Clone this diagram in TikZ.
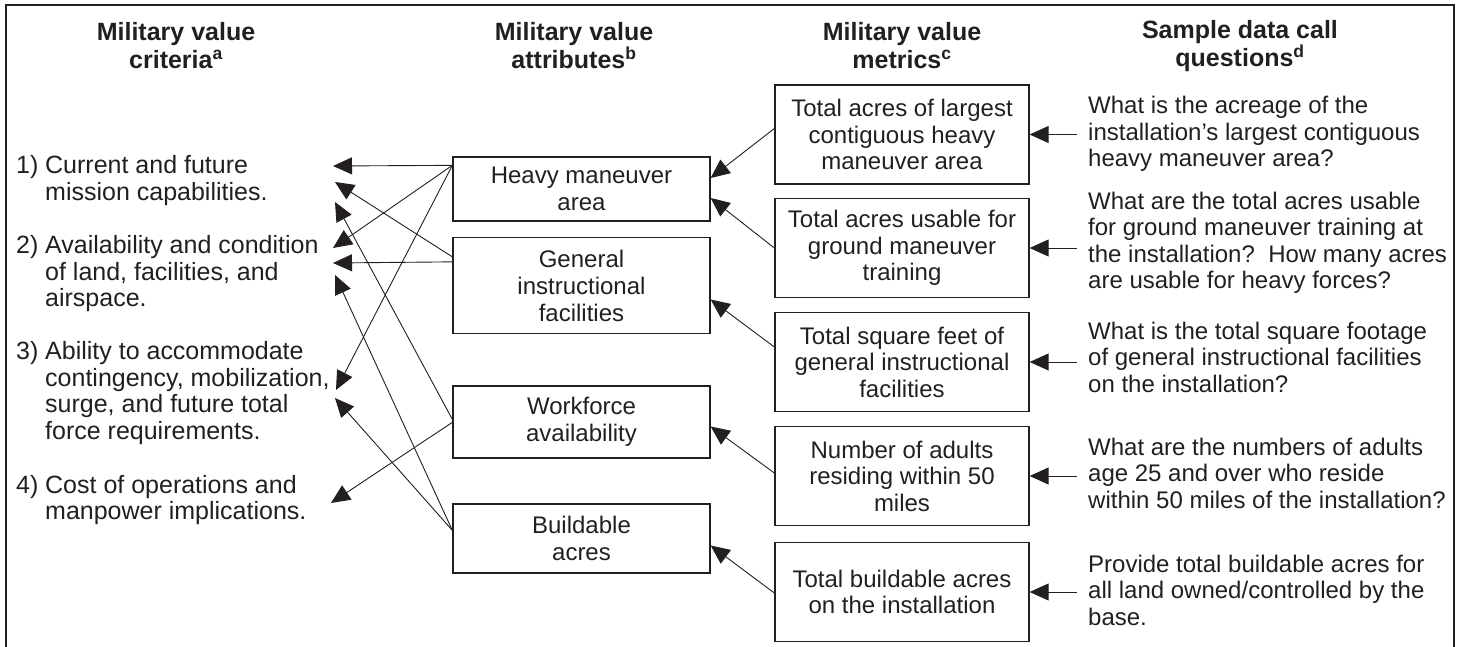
\documentclass[tikz,border=0pt]{standalone}
\usepackage{fontspec}
\setmainfont{Liberation Sans}
\usetikzlibrary{arrows.meta,calc}
\definecolor{ink}{HTML}{231F20}
\newcommand{\cnum}[1]{\makebox[29pt][l]{#1}}
\newcommand{\cind}{\hspace*{29pt}}
\begin{document}
\begin{tikzpicture}[x=1pt,y=-1pt,
  every node/.style={font=\fontsize{24}{26.5}\selectfont, text=ink, inner sep=0pt},
  hdr/.style={font=\bfseries\fontsize{25}{28}\selectfont, align=center},
  crit/.style={anchor=west, align=left, font=\fontsize{25}{26.5}\selectfont},
  attrbox/.style={draw=ink, line width=1.3pt, minimum width=257pt, align=center, font=\fontsize{24}{27}\selectfont},
  metbox/.style={draw=ink, line width=1.3pt, minimum width=254pt, minimum height=99pt, align=center},
  quest/.style={anchor=west, align=left, inner xsep=11pt},
  conn/.style={draw=ink, line width=0.9pt, -{Triangle[length=19pt,width=17pt]}},
]
\useasboundingbox (0,0) rectangle (1460,647);
\draw[ink, line width=1.5pt] (6,647) -- (6,5) -- (1454,5) -- (1454,647);

% headers
\node[hdr] (h1) at (176,46) {Military value\\criteria\textsuperscript{a}};
\node[hdr] (h2) at (574,46) {Military value\\attributes\textsuperscript{b}};
\node[hdr] (h3) at (902,46) {Military value\\metrics\textsuperscript{c}};
\node[hdr] (h4) at (1240,46) {Sample data call\\questions\textsuperscript{d}};

% criteria
\node[crit] (k1) at (16,180.5) {\cnum{1)}Current and future\\\cind mission capabilities.};
\node[crit] (k2) at (16,274) {\cnum{2)}Availability and condition\\\cind of land, facilities, and\\\cind airspace.};
\node[crit] (k3) at (16,393) {\cnum{3)}Ability to accommodate\\\cind contingency, mobilization,\\\cind surge, and future total\\\cind force requirements.};
\node[crit] (k4) at (16,500) {\cnum{4)}Cost of operations and\\\cind manpower implications.};

% attributes
\node[attrbox, minimum height=64pt] (hma) at (581.5,189) {Heavy maneuver\\area};
\node[attrbox, minimum height=96pt] (gif) at (581.5,285.5) {General\\instructional\\facilities};
\node[attrbox, minimum height=72pt] (wa) at (581.5,422) {Workforce\\availability};
\node[attrbox, minimum height=69pt] (ba) at (581.5,538.5) {Buildable\\acres};

% metrics
\node[metbox] (m1) at (902,134.5) {Total acres of largest\\contiguous heavy\\maneuver area};
\node[metbox] (m2) at (902,248) {Total acres usable for\\ground maneuver\\training};
\node[metbox] (m3) at (902,362) {Total square feet of\\general instructional\\facilities};
\node[metbox] (m4) at (902,476) {Number of adults\\residing within 50\\miles};
\node[metbox] (m5) at (902,592) {Total buildable acres\\on the installation};

% questions
\node[quest] (q1) at (1077,134) {What is the acreage of the\\installation’s largest contiguous\\heavy maneuver area?};
\node[quest] (q2) at (1077,243) {What are the total acres usable\\for ground maneuver training at\\the installation?\ \ How many acres\\are usable for heavy forces?};
\node[quest] (q3) at (1077,357) {What is the total square footage\\of general instructional facilities\\on the installation?};
\node[quest] (q4) at (1077,473) {What are the numbers of adults\\age 25 and over who reside\\within 50 miles of the installation?};
\node[quest] (q5) at (1077,590) {Provide total buildable acres for\\all land owned/controlled by the\\base.};

% arrow tip coordinates at criteria
\coordinate (c1a) at (333,166);
\coordinate (c1b) at (335,182);
\coordinate (c1c) at (335,202);
\coordinate (c2a) at (333,248);
\coordinate (c2b) at (333,263);
\coordinate (c2c) at (335,275);
\coordinate (c3a) at (336,390);
\coordinate (c3b) at (335,398);
\coordinate (c4) at (331,503);

% attributes -> criteria
\draw[conn] ([yshift=-9pt]hma.north west) -- (c1a);
\draw[conn] ([yshift=-9pt]hma.north west) -- (c2a);
\draw[conn] ([yshift=-9pt]hma.north west) -- (c3a);
\draw[conn] ([yshift=-20pt]gif.north west) -- (c1b);
\draw[conn] ([yshift=-25pt]gif.north west) -- (c2b);
\draw[conn] ([yshift=-34pt]wa.north west) -- (c1c);
\draw[conn] ([yshift=-37pt]wa.north west) -- (c4);
\draw[conn] ([yshift=-27pt]ba.north west) -- (c2c);
\draw[conn] ([yshift=-27pt]ba.north west) -- (c3b);

% metrics -> attributes
\draw[conn] ([yshift=6pt]m1.west) -- ([yshift=11pt]hma.east);
\draw[conn] (m2.west) -- ([yshift=-9pt]hma.east);
\draw[conn] ([yshift=15pt]m3.west) -- ([yshift=-14pt]gif.east);
\draw[conn] ([yshift=3pt]m4.west) -- ([yshift=-4.5pt]wa.east);
\draw[conn] ([yshift=-1pt]m5.west) -- ([yshift=-7pt]ba.east);

% questions -> metrics
\draw[conn] (q1.west |- m1.east) -- (m1.east);
\draw[conn] (q2.west |- m2.east) -- (m2.east);
\draw[conn] (q3.west |- m3.east) -- (m3.east);
\draw[conn] (q4.west |- m4.east) -- (m4.east);
\draw[conn] (q5.west |- m5.east) -- (m5.east);
\end{tikzpicture}
\end{document}
